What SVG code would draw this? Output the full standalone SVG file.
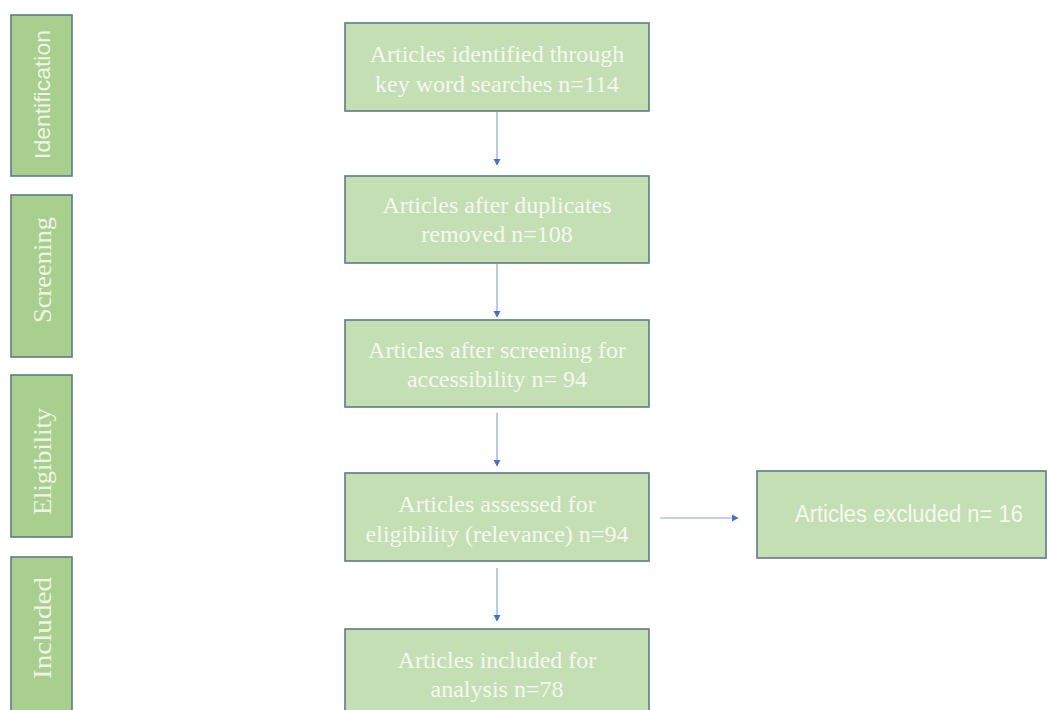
<svg xmlns="http://www.w3.org/2000/svg" width="1050" height="710" viewBox="0 0 1050 710">
<defs>
<marker id="ah" markerWidth="8" markerHeight="8" refX="6" refY="4" orient="auto" markerUnits="userSpaceOnUse">
<path d="M0,0.5 L6.5,4 L0,7.5 Z" fill="#4472C4"/>
</marker>
<style>
.box{fill:#C5DFB4;stroke:#5E7B87;stroke-width:1.6}
.side{fill:#A9CF8E;stroke:#5E7B87;stroke-width:1.6}
.t{font-family:"Liberation Serif","Times New Roman",serif;font-size:24px;fill:#F4F8F0;text-anchor:middle}
.ts{font-family:"Liberation Sans",Arial,sans-serif;font-size:23px;fill:#F4F8F0;text-anchor:middle}
.sl{font-family:"Liberation Serif","Times New Roman",serif;font-size:25px;fill:#EEF5E8;text-anchor:middle}
.ss{font-family:"Liberation Sans",Arial,sans-serif;font-size:22px;fill:#EEF5E8;text-anchor:middle}
.c{stroke:#8EA6D2;stroke-width:1.2;fill:none;marker-end:url(#ah)}
</style>
</defs>
<rect width="1050" height="710" fill="#FFFFFF"/>
<g id="stage-identification">
<rect class="side" x="11" y="15" width="61" height="161"/>
<text class="ss" transform="translate(50,94.5) rotate(-90)" textLength="129" lengthAdjust="spacingAndGlyphs">Identification</text>
</g>
<g id="stage-screening">
<rect class="side" x="11" y="195" width="61" height="162"/>
<text class="sl" transform="translate(51,270) rotate(-90)" textLength="106" lengthAdjust="spacingAndGlyphs">Screening</text>
</g>
<g id="stage-eligibility">
<rect class="side" x="11" y="375" width="61" height="162"/>
<text class="sl" transform="translate(51,461.5) rotate(-90)" textLength="107" lengthAdjust="spacingAndGlyphs">Eligibility</text>
</g>
<g id="stage-included">
<rect class="side" x="11" y="557" width="61" height="170"/>
<text class="sl" transform="translate(51,628) rotate(-90)" textLength="102" lengthAdjust="spacingAndGlyphs">Included</text>
</g>
<g id="connectors">
<line class="c" x1="497" y1="112" x2="497" y2="165"/>
<line class="c" x1="497" y1="264" x2="497" y2="317"/>
<line class="c" x1="497" y1="413" x2="497" y2="466"/>
<line class="c" x1="497" y1="568" x2="497" y2="621"/>
<line class="c" x1="660" y1="518" x2="738" y2="518"/>
</g>
<g id="identified">
<rect class="box" x="345" y="23" width="304" height="88"/>
<text class="t" x="497" y="62">Articles identified through</text>
<text class="t" x="497" y="92">key word searches n=114</text>
</g>
<g id="duplicates-removed">
<rect class="box" x="345" y="176" width="304" height="87"/>
<text class="t" x="497" y="213">Articles after duplicates</text>
<text class="t" x="497" y="242">removed n=108</text>
</g>
<g id="screened">
<rect class="box" x="345" y="320" width="304" height="87"/>
<text class="t" x="497" y="358">Articles after screening for</text>
<text class="t" x="497" y="387">accessibility n= 94</text>
</g>
<g id="assessed">
<rect class="box" x="345" y="473" width="304" height="88"/>
<text class="t" x="497" y="512">Articles assessed for</text>
<text class="t" x="497" y="542">eligibility (relevance) n=94</text>
</g>
<g id="excluded">
<rect class="box" x="757" y="471" width="289" height="87"/>
<text class="ts" x="909" y="522" textLength="228" lengthAdjust="spacingAndGlyphs">Articles excluded n= 16</text>
</g>
<g id="included">
<rect class="box" x="345" y="629" width="304" height="100"/>
<text class="t" x="497" y="668">Articles included for</text>
<text class="t" x="497" y="697">analysis n=78</text>
</g>
</svg>
